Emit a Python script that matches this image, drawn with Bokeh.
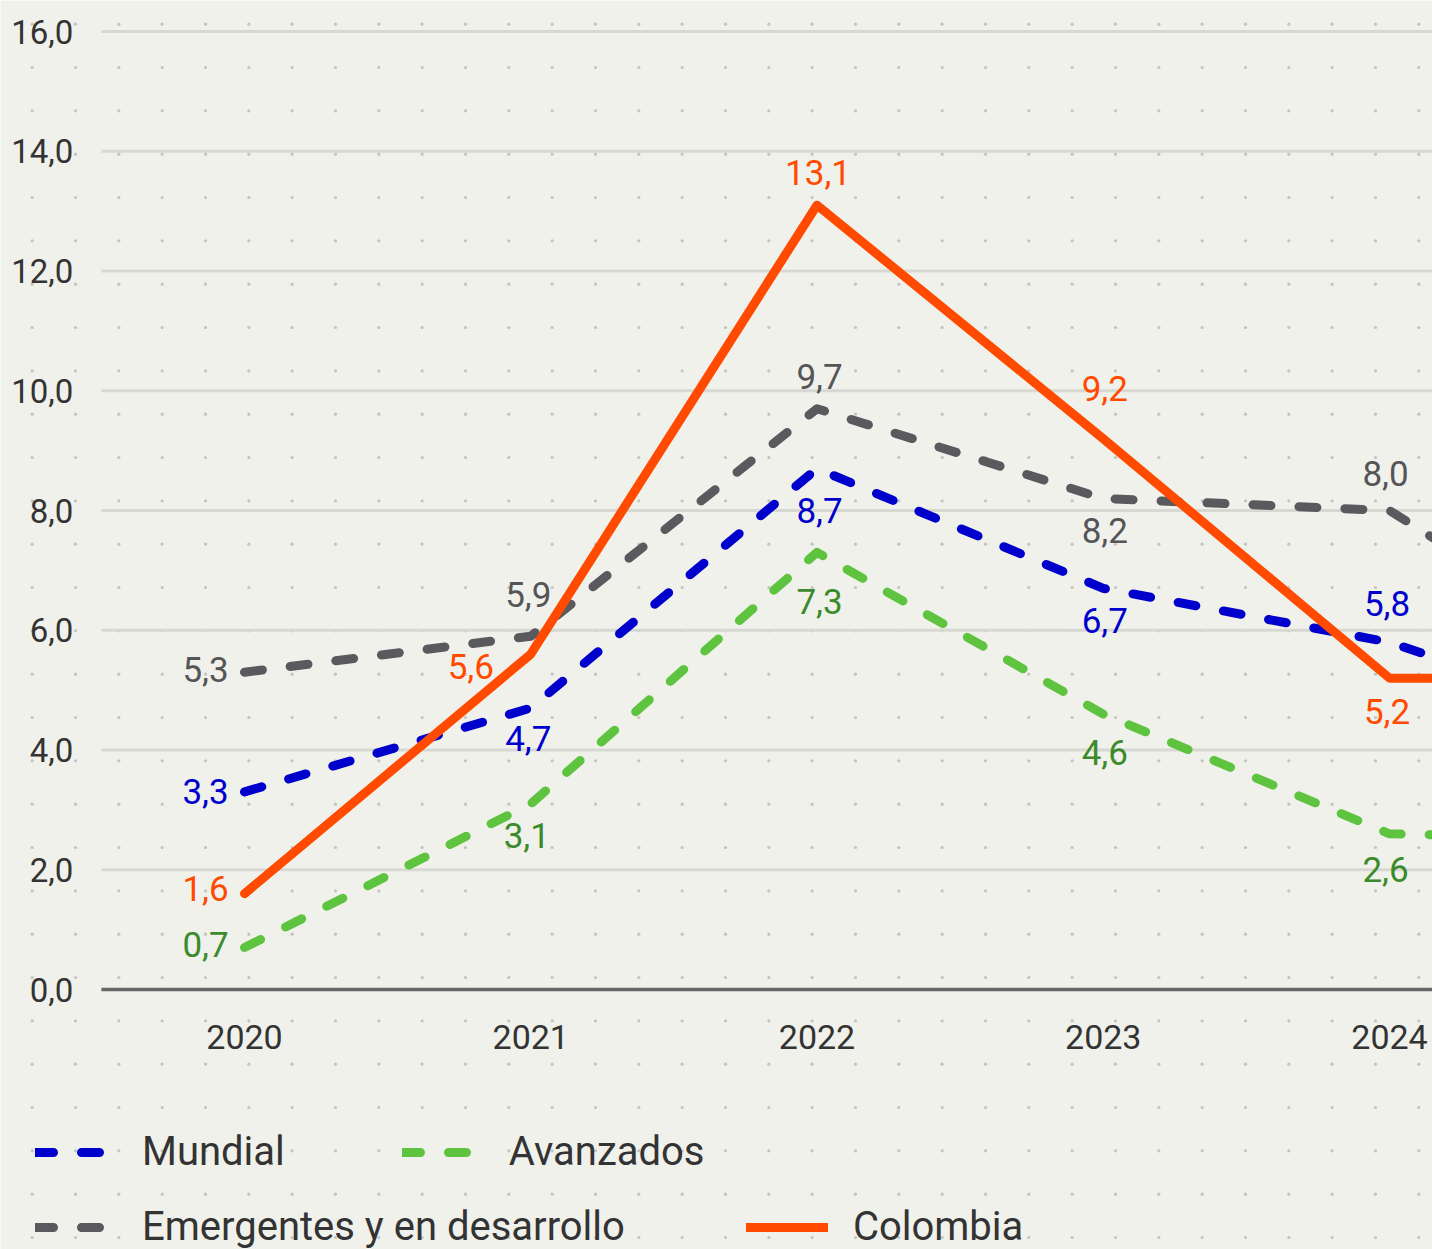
from bokeh.plotting import figure
from bokeh.models import Range1d, Legend, LegendItem
from bokeh.core.properties import value
from bokeh.embed import file_html
from bokeh.resources import INLINE
import numpy as np

# ---------------- data ----------------
years = [2020, 2021, 2022, 2023, 2024, 2025]
mundial = [3.3, 4.7, 8.7, 6.7, 5.8, 4.2]
avanzados = [0.7, 3.1, 7.3, 4.6, 2.6, 2.5]
emergentes = [5.3, 5.9, 9.7, 8.2, 8.0, 5.0]
colombia = [1.6, 5.6, 13.1, 9.2, 5.2, 5.2]

series_names = ["Mundial", "Avanzados", "Emergentes y en desarrollo", "Colombia"]
y_ticks = [0, 2, 4, 6, 8, 10, 12, 14, 16]
y_tick_labels = ["0,0", "2,0", "4,0", "6,0", "8,0", "10,0", "12,0", "14,0", "16,0"]
x_ticks = [2020, 2021, 2022, 2023, 2024]
x_tick_labels = ["2020", "2021", "2022", "2023", "2024"]

# ---------------- layout / style ----------------
W, H = 1432, 1249
PX_X = 286.25          # pixels per year
PX_Y = 59.875          # pixels per unit
X0 = 2020 - 244 / PX_X
X1 = X0 + W / PX_X
Y1 = 989 / PX_Y
Y0 = Y1 - H / PX_Y

BG = "#f1f1ec"
FONT = "Roboto"
C_M, C_A, C_E, C_C = "#0000cc", "#5ec43f", "#59595e", "#ff4a00"
L_M, L_A, L_E, L_C = "#0000cc", "#3b8b2a", "#555558", "#ff4a00"

# label placement offsets in pixels (dx right, dy down) per series point
off_m = [(-39, 0), (-2.5, 30), (2.5, 41.5), (1.5, 32), (-2.5, -39)]
off_a = [(-39, -3.5), (-4, 31.5), (2.5, 49), (1.5, 38), (-4, 36)]
off_e = [(-39, -3), (-2.5, -41.5), (2.5, -32), (1.5, 32), (-4, -37.5)]
off_c = [(-39, -5.5), (-60, 12), (1, -33), (1.5, -50), (-2.5, 33)]

p = figure(width=W, height=H, x_range=Range1d(X0, X1), y_range=Range1d(Y0, Y1),
           min_border=0, toolbar_location=None, output_backend="svg",
           x_axis_location=None, y_axis_location=None)
p.background_fill_color = BG
p.border_fill_color = BG
p.outline_line_color = None
p.xgrid.visible = False
p.ygrid.visible = False

# dotted background pattern
fx = 31.67 + 43.333 * np.arange(0, 34)
fy = 23.67 + 43.333 * np.arange(0, 30)
gx, gy = np.meshgrid(X0 + fx / PX_X, Y1 - fy / PX_Y)
p.scatter(gx.ravel(), gy.ravel(), size=3.2, color="#c3c3bf", line_color=None)

# grid lines
gl = y_ticks[1:]
p.segment(x0=[2019.5] * len(gl), y0=gl, x1=[2026] * len(gl), y1=gl,
          line_color="#d8d8d3", line_width=3)
p.segment(x0=[2019.5], y0=[0], x1=[2026], y1=[0], line_color="#666666", line_width=3.5)

# tick labels
p.text(x=[2019.5] * len(y_ticks), y=y_ticks, text=y_tick_labels, x_offset=-28,
       text_align="right", text_baseline="middle", text_font=value(FONT),
       text_font_size="33px", text_color="#333333")
p.text(x=x_ticks, y=[-47 / PX_Y] * len(x_ticks), text=x_tick_labels,
       text_align="center", text_baseline="middle", text_font=value(FONT),
       text_font_size="34px", text_color="#333333")

# lines
DASH = "18 28"
r_e = p.line(years, emergentes, line_color=C_E, line_width=9, line_dash=DASH,
             line_cap="round", line_join="round")
r_a = p.line(years, avanzados, line_color=C_A, line_width=9, line_dash=DASH,
             line_cap="round", line_join="round")
r_m = p.line(years, mundial, line_color=C_M, line_width=9, line_dash=DASH,
             line_cap="round", line_join="round")
r_c = p.line(years, colombia, line_color=C_C, line_width=9,
             line_cap="round", line_join="round")

# data labels
def add_labels(vals, offs, color):
    xs, ys, ts = [], [], []
    for yr, v, (dx, dy) in zip(x_ticks, vals, offs):
        xs.append(yr + dx / PX_X)
        ys.append(v - dy / PX_Y)
        ts.append(f"{v:.1f}".replace(".", ","))
    p.text(x=xs, y=ys, text=ts, text_align="center", text_baseline="middle",
           text_font=value(FONT), text_font_size="35px", text_color=color)

add_labels(emergentes, off_e, L_E)
add_labels(avanzados, off_a, L_A)
add_labels(mundial, off_m, L_M)
add_labels(colombia, off_c, L_C)

# legends (two rows)
def make_legend(items, loc, spacing):
    return Legend(items=items, orientation="horizontal", location=loc,
                  label_text_font=FONT, label_text_font_size="40px",
                  label_text_color="#333333", glyph_width=82, glyph_height=46,
                  label_height=46, label_standoff=25, spacing=spacing, padding=0,
                  margin=0, border_line_color=None, background_fill_alpha=0)

leg1 = make_legend([LegendItem(label=series_names[0], renderers=[r_m]),
                    LegendItem(label=series_names[1], renderers=[r_a])], (35, 74), 117)
leg2 = make_legend([LegendItem(label=series_names[2], renderers=[r_e]),
                    LegendItem(label=series_names[3], renderers=[r_c])], (35, -1), 121)
p.add_layout(leg1)
p.add_layout(leg2)

open("out.html", "w").write(file_html(p, INLINE))
